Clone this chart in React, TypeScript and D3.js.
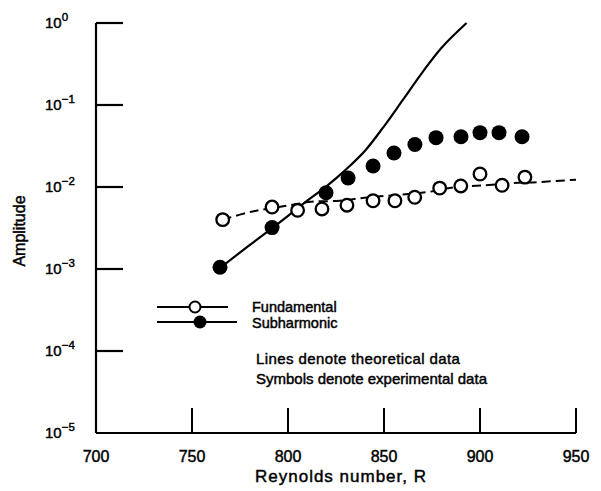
import React from "react";
import * as d3 from "d3";

const xTicks = [700, 750, 800, 850, 900, 950];
const yTickExps = [0, -1, -2, -3, -4, -5];

// Experimental data
const fundR = [766, 791.7, 805, 817.7, 830.7, 844.3, 855.7, 866, 879, 890, 900, 911.5, 923.4];
const fundA = [0.004, 0.0057, 0.0052, 0.0054, 0.006, 0.0068, 0.0068, 0.0075, 0.0097, 0.0103, 0.0144, 0.0105, 0.0132];
const subR = [764.6, 791.7, 819.8, 831.3, 844.3, 855.2, 866.1, 877.1, 890.1, 900, 909.9, 921.9];
const subA = [0.00105, 0.0032, 0.0085, 0.0129, 0.018, 0.026, 0.033, 0.04, 0.041, 0.046, 0.046, 0.041];

// Theoretical data
const thFundR = [766, 781, 801, 812, 827, 840, 873, 885, 903, 918, 931, 950];
const thFundA = [0.004, 0.005, 0.006, 0.0066, 0.0068, 0.0074, 0.0087, 0.0098, 0.0105, 0.0112, 0.0115, 0.0123];
const thSubR = [765, 780, 795, 810, 820, 830, 840, 850, 860, 870, 880, 893];
const thSubA = [0.00105, 0.00195, 0.0036, 0.0068, 0.0102, 0.0162, 0.0275, 0.055, 0.117, 0.25, 0.5, 1.0];

const FONT = "'Liberation Sans', Arial, Helvetica, sans-serif";
const heavy = { stroke: "#000", strokeWidth: 0.45 };

export default function App() {
  const x = d3.scaleLinear().domain([700, 950]).range([96, 576]);
  const y = d3.scaleLog().domain([1e-5, 1]).range([433, 23]);

  const line = d3
    .line<[number, number]>()
    .x((d) => x(d[0]))
    .y((d) => y(d[1]))
    .curve(d3.curveCatmullRom.alpha(0.5));

  const thFund: [number, number][] = thFundR.map((r, i) => [r, thFundA[i]]);
  const thSub: [number, number][] = thSubR.map((r, i) => [r, thSubA[i]]);

  return (
    <svg
      width={601}
      height={491}
      style={{ position: "absolute", left: 0, top: 0, background: "#fff" }}
      fontFamily={FONT}
    >
      {/* axes */}
      <line x1={x(700)} x2={x(700)} y1={y(1)} y2={y(1e-5)} stroke="#000" strokeWidth={2.2} />
      <line x1={x(700)} x2={x(950)} y1={y(1e-5)} y2={y(1e-5)} stroke="#000" strokeWidth={2.2} />
      {yTickExps.filter((e) => e > -5).map((e) => (
        <line key={"yt" + e} x1={x(700)} x2={x(700) + 27} y1={y(Math.pow(10, e))} y2={y(Math.pow(10, e))} stroke="#000" strokeWidth={2.2} />
      ))}
      {xTicks.filter((t) => t > 700).map((t) => (
        <line key={"xt" + t} x1={x(t)} x2={x(t)} y1={y(1e-5)} y2={y(1e-5) - 25} stroke="#000" strokeWidth={2} />
      ))}
      {/* y tick labels */}
      {yTickExps.map((e) => (
        <text key={"yl" + e} x={45} y={y(Math.pow(10, e)) + 5} fontSize={15} fill="#000" {...heavy}>
          10
          <tspan fontSize={11.5} dy={-7}>{e === 0 ? "0" : "\u2212" + Math.abs(e)}</tspan>
        </text>
      ))}
      {/* x tick labels */}
      {xTicks.map((t) => (
        <text key={"xl" + t} x={x(t)} y={462} fontSize={16} textAnchor="middle" fill="#000" {...heavy}>
          {t}
        </text>
      ))}
      <text x={341} y={482} fontSize={17} letterSpacing={1} textAnchor="middle" fill="#000" {...heavy}>
        Reynolds number, R
      </text>
      <text transform="translate(25,231) rotate(-90)" fontSize={16} textAnchor="middle" fill="#000" {...heavy}>
        Amplitude
      </text>

      {/* theory lines */}
      <path d={line(thFund) || ""} fill="none" stroke="#000" strokeWidth={2} strokeDasharray="9,5" />
      <path d={line(thSub) || ""} fill="none" stroke="#000" strokeWidth={2.2} />

      {/* experimental points */}
      {fundR.map((r, i) => (
        <circle key={"f" + i} cx={x(r)} cy={y(fundA[i])} r={6.3} fill="#fff" stroke="#000" strokeWidth={2.3} />
      ))}
      {subR.map((r, i) => (
        <circle key={"s" + i} cx={x(r)} cy={y(subA[i])} r={7.5} fill="#000" />
      ))}

      {/* legend */}
      <line x1={157} x2={228} y1={307} y2={307} stroke="#000" strokeWidth={2} />
      <circle cx={195} cy={307} r={5.5} fill="#fff" stroke="#000" strokeWidth={2} />
      <line x1={157} x2={237} y1={322} y2={322} stroke="#000" strokeWidth={2} />
      <circle cx={200} cy={322} r={6.5} fill="#000" />
      <text x={252} y={312} fontSize={14.5} fill="#000" {...heavy}>Fundamental</text>
      <text x={252} y={328} fontSize={14.5} fill="#000" {...heavy}>Subharmonic</text>
      <text x={256} y={364} fontSize={15} letterSpacing={0.4} fill="#000" {...heavy}>Lines denote theoretical data</text>
      <text x={256} y={384} fontSize={15} fill="#000" {...heavy}>Symbols denote experimental data</text>
    </svg>
  );
}
